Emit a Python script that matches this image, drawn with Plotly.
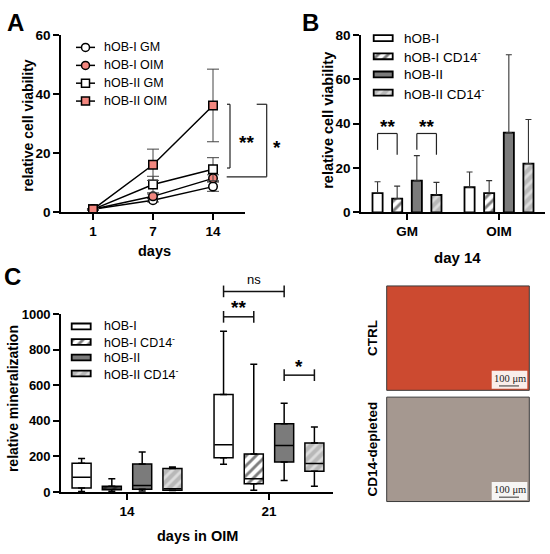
import plotly.graph_objects as go

FONT = "Liberation Sans, Arial, sans-serif"
SERIF = "Liberation Serif, DejaVu Serif, serif"
PINK = "#f3877f"
W, H = 550, 554

# ---------------- data ----------------
# A: relative cell viability, mean and SD on day 1, 7, 14
A_DAYS = ["1", "7", "14"]
A_OB1_GM = [1.0, 4.1, 8.7]
A_OB1_GM_SD = [0.2, 0.6, 1.6]
A_OB1_OIM = [1.0, 5.4, 11.5]
A_OB1_OIM_SD = [0.2, 0.8, 1.2]
A_OB2_GM = [1.0, 9.4, 14.6]
A_OB2_GM_SD = [0.2, 2.8, 3.9]
A_OB2_OIM = [1.0, 16.1, 36.2]
A_OB2_OIM_SD = [0.3, 5.3, 12.3]

# B: relative cell viability at day 14, mean and SD
B_MEDIA = ["GM", "OIM"]
B_OB1 = [8.7, 11.3]
B_OB1_SD = [5.1, 6.9]
B_OB1_CD14 = [6.2, 8.7]
B_OB1_CD14_SD = [5.6, 5.6]
B_OB2 = [14.3, 36.0]
B_OB2_SD = [11.3, 35.2]
B_OB2_CD14 = [7.8, 22.0]
B_OB2_CD14_SD = [5.7, 19.9]

# C: relative mineralization, box stats on day 14 and 21 in OIM
C_DAYS = ["14", "21"]
C_OB1_LO = [3, 156]
C_OB1_Q1 = [22, 192]
C_OB1_MED = [83, 265]
C_OB1_Q3 = [161, 548]
C_OB1_HI = [188, 904]
C_OB1_CD14_LO = [2, 10]
C_OB1_CD14_Q1 = [12, 46]
C_OB1_CD14_MED = [22, 74]
C_OB1_CD14_Q3 = [32, 214]
C_OB1_CD14_HI = [74, 718]
C_OB2_LO = [5, 65]
C_OB2_Q1 = [15, 168]
C_OB2_MED = [37, 262]
C_OB2_Q3 = [158, 384]
C_OB2_HI = [225, 499]
C_OB2_CD14_LO = [8, 32]
C_OB2_CD14_Q1 = [10, 116]
C_OB2_CD14_MED = [18, 160]
C_OB2_CD14_Q3 = [132, 275]
C_OB2_CD14_HI = [141, 365]

# ---------------- styling ----------------
A_NAMES = ["hOB-I GM", "hOB-I OIM", "hOB-II GM", "hOB-II OIM"]
A_SYMBOLS = ["circle", "circle", "square", "square"]
A_FILLS = ["white", PINK, "white", PINK]

GROUP_NAMES = ["hOB-I", "hOB-I CD14<sup>-</sup>", "hOB-II", "hOB-II CD14<sup>-</sup>"]
GROUP_BG = ["white", "white", "#7b7b7b", "#b8b8b8"]
GROUP_FG = [None, "black", None, "white"]
OFFSETS = [-0.32, -0.107, 0.107, 0.32]

# axis geometry in pixels (figure is 550 x 554)
A_L, A_R, A_B, A_T = 61, 245, 211, 29
B_L, B_R = 361, 545
C_L, C_R, C_B, C_T = 61, 333, 498.5, 315.7
A_XR = [-0.533, 2.533]
B_XR = [-0.5, 1.5]
C_XR = [-0.465, 1.451]


def px(val, lo, hi, p0, p1):
    return p0 + (val - lo) / (hi - lo) * (p1 - p0)


def a_y(v):
    return px(v, 0, 60, A_B, A_T)


def b_x(v):
    return px(v, B_XR[0], B_XR[1], B_L, B_R)


def b_y(v):
    return px(v, 0, 80, A_B, A_T)


def c_x(v):
    return px(v, C_XR[0], C_XR[1], C_L, C_R)


def c_y(v):
    return px(v, 0, 1000, C_B, C_T)


def group_marker(i, lw=1.6):
    m = dict(color=GROUP_BG[i], line=dict(color="black", width=lw))
    if GROUP_FG[i]:
        m["pattern"] = dict(shape="/", fgcolor=GROUP_FG[i], bgcolor=GROUP_BG[i],
                            size=7, solidity=0.42)
    return m


fig = go.Figure()

# ---------------- panel A ----------------
a_means = [A_OB1_GM, A_OB1_OIM, A_OB2_GM, A_OB2_OIM]
a_sds = [A_OB1_GM_SD, A_OB1_OIM_SD, A_OB2_GM_SD, A_OB2_OIM_SD]
for i in range(4):
    fig.add_trace(go.Scatter(
        x=A_DAYS, y=a_means[i], mode="lines+markers", name=A_NAMES[i],
        line=dict(color="black", width=1.5),
        marker=dict(symbol=A_SYMBOLS[i], size=8.5, color=A_FILLS[i],
                    line=dict(color="black", width=1.5)),
        error_y=dict(type="data", array=a_sds[i], color="#444", thickness=1, width=6),
        xaxis="x", yaxis="y"))

# ---------------- panel B ----------------
b_vals = [B_OB1, B_OB1_CD14, B_OB2, B_OB2_CD14]
b_sds = [B_OB1_SD, B_OB1_CD14_SD, B_OB2_SD, B_OB2_CD14_SD]
for i in range(4):
    fig.add_trace(go.Bar(
        x=[k + OFFSETS[i] for k in range(len(B_MEDIA))], y=b_vals[i], width=0.11,
        name=GROUP_NAMES[i], marker=group_marker(i, 1.8),
        error_y=dict(type="data", symmetric=False, array=b_sds[i],
                     arrayminus=[0] * len(B_MEDIA), color="#333", thickness=1.1, width=3),
        xaxis="x2", yaxis="y2"))

# ---------------- panel C ----------------
c_sets = [
    (C_OB1_LO, C_OB1_Q1, C_OB1_MED, C_OB1_Q3, C_OB1_HI),
    (C_OB1_CD14_LO, C_OB1_CD14_Q1, C_OB1_CD14_MED, C_OB1_CD14_Q3, C_OB1_CD14_HI),
    (C_OB2_LO, C_OB2_Q1, C_OB2_MED, C_OB2_Q3, C_OB2_HI),
    (C_OB2_CD14_LO, C_OB2_CD14_Q1, C_OB2_CD14_MED, C_OB2_CD14_Q3, C_OB2_CD14_HI),
]
for i, (lo, q1, med, q3, hi) in enumerate(c_sets):
    xs = [k + OFFSETS[i] for k in range(len(C_DAYS))]
    whisk = dict(type="data", symmetric=False, color="black", thickness=1.5, width=3.5)
    fig.add_trace(go.Bar(
        x=xs, base=q1, y=[b - a for a, b in zip(q1, q3)], width=0.134,
        name=GROUP_NAMES[i], marker=group_marker(i, 1.5),
        error_y=dict(whisk, array=[b - a for a, b in zip(q3, hi)], arrayminus=[0] * len(xs)),
        xaxis="x3", yaxis="y3"))
    fig.add_trace(go.Scatter(
        x=xs, y=q1, mode="markers", marker=dict(size=2, opacity=0),
        error_y=dict(whisk, array=[0] * len(xs), arrayminus=[a - b for a, b in zip(q1, lo)]),
        xaxis="x3", yaxis="y3"))
    fig.add_trace(go.Scatter(
        x=xs, y=med, mode="markers",
        marker=dict(symbol="line-ew", size=13, line=dict(color="black", width=1.5)),
        xaxis="x3", yaxis="y3"))

# ---------------- legends (drawn on a pixel canvas) ----------------
A_ROWS = [41.5, 60, 78.3, 96.7]
for i, row in enumerate(A_ROWS):
    fig.add_trace(go.Scatter(x=[76, 95], y=[row, row], mode="lines",
                             line=dict(color="black", width=1.5), xaxis="x4", yaxis="y4"))
    fig.add_trace(go.Scatter(x=[85.5], y=[row], mode="markers",
                             marker=dict(symbol=A_SYMBOLS[i], size=8, color=A_FILLS[i],
                                         line=dict(color="black", width=1.5)),
                             xaxis="x4", yaxis="y4"))

B_ROWS = [32, 50.7, 69.3, 88]
C_ROWS = [328.3, 344.3, 360.3, 376.7]
for rows, cx in [(B_ROWS, 383.2), (C_ROWS, 81.2)]:
    for i, row in enumerate(rows):
        fig.add_trace(go.Bar(x=[cx], base=[row - 3], y=[6], width=[19],
                             marker=group_marker(i, 1.8), xaxis="x4", yaxis="y4"))

ann = []


def text(x, y, s, size, angle=0, anchor="center", family=FONT, color="black"):
    ann.append(dict(x=x, y=y, xref="x4", yref="y4", text=s, showarrow=False,
                    textangle=angle, xanchor=anchor, yanchor="middle",
                    font=dict(family=family, size=size, color=color)))


for i, row in enumerate(A_ROWS):
    text(101.5, row, A_NAMES[i], 12.5, anchor="left")
for i, row in enumerate(B_ROWS):
    text(402, row, GROUP_NAMES[i], 13.5, anchor="left")
for i, row in enumerate(C_ROWS):
    text(101.5, row, GROUP_NAMES[i], 12.5, anchor="left")

# panel letters and axis titles
text(15, 16, "<b>A</b>", 24)
text(310, 16, "<b>B</b>", 24)
text(12, 277, "<b>C</b>", 24)
text(28, 122, "<b>relative cell viability</b>", 14, angle=-90)
text(154, 251, "<b>days</b>", 14.5)
text(328, 117, "<b>relative cell viability</b>", 14.5, angle=-90)
text(457, 257, "<b>day 14</b>", 15)
text(13, 403, "<b>relative mineralization</b>", 14, angle=-90)
text(197, 544, "<b>days in OIM</b>", 14.5)

shapes = []


def seg(x0, y0, x1, y1, color="#222", width=1.2):
    shapes.append(dict(type="line", xref="x4", yref="y4", x0=x0, y0=y0, x1=x1, y1=y1,
                       line=dict(color=color, width=width)))


# significance marks, panel A
seg(230, a_y(36.6), 230, a_y(15.0))
seg(227, a_y(36.6), 230, a_y(36.6))
seg(227, a_y(15.0), 230, a_y(15.0))
seg(266.7, a_y(36.6), 266.7, a_y(12.0))
seg(256.7, a_y(36.6), 266.7, a_y(36.6))
seg(226.7, a_y(12.0), 266.7, a_y(12.0))
text(246.7, 139, "<b>**</b>", 19)
text(276.7, 144, "<b>*</b>", 19)

# significance marks, panel B
for a, b in [(0, 1), (2, 3)]:
    xa, xb = b_x(OFFSETS[a]), b_x(OFFSETS[b])
    seg(xa, b_y(28.2), xa, b_y(35.6))
    seg(xa, b_y(35.6), xb, b_y(35.6))
    seg(xb, b_y(35.6), xb, b_y(26.0))
    text((xa + xb) / 2, b_y(40.7) + 4, "<b>**</b>", 19)

# significance marks, panel C
for a, b, lvl, label, ty in [(0, 2, 1128, "ns", 1195), (0, 1, 985, "<b>**</b>", 1058),
                              (2, 3, 657, "<b>*</b>", 730)]:
    xa, xb = c_x(1 + OFFSETS[a]), c_x(1 + OFFSETS[b])
    yy = c_y(lvl)
    seg(xa, yy, xb, yy, color="#111", width=1.5)
    seg(xa, yy - 6, xa, yy + 6, color="#111", width=1.5)
    seg(xb, yy - 6, xb, yy + 6, color="#111", width=1.5)
    if label == "ns":
        text((xa + xb) / 2, c_y(ty), label, 13)
    else:
        text((xa + xb) / 2, c_y(ty) + 4, label, 19)

# micrographs (flat colour stand-ins) with scale labels
for y0, y1, col in [(286.7, 394, "#cc4a30"), (401, 508.3, "#a59890")]:
    shapes.append(dict(type="rect", xref="x4", yref="y4", x0=386.7, x1=529.3, y0=y0, y1=y1,
                       fillcolor=col, line=dict(color="#3a3a3a", width=1)))
    shapes.append(dict(type="rect", xref="x4", yref="y4", x0=491.7, x1=527.3,
                       y0=y1 - 20, y1=y1 - 1.5, fillcolor="rgba(255,255,255,0.9)",
                       line=dict(width=0)))
    text(509.5, y1 - 12.5, "100 \u03bcm", 10.5, family=SERIF, color="#222")
    seg(499, y1 - 4.5, 519, y1 - 4.5, color="#333", width=1)
text(372, 340.3, "<b>CTRL</b>", 13.5, angle=-90)
text(372, 454.7, "<b>CD14-depleted</b>", 13.5, angle=-90)


def axis(domain, rng, anchor, **kw):
    d = dict(domain=domain, range=rng, anchor=anchor, showline=True, linecolor="black",
             linewidth=1.6, ticks="outside", ticklen=6, tickwidth=1.6, tickcolor="black",
             showgrid=False, zeroline=False, fixedrange=True,
             tickfont=dict(family=FONT, size=13.5, color="black", weight="bold"))
    d.update(kw)
    return d


fig.update_layout(
    width=W, height=H, autosize=False, showlegend=False,
    margin=dict(l=0, r=0, t=0, b=0),
    paper_bgcolor="white", plot_bgcolor="rgba(0,0,0,0)",
    barmode="overlay",
    xaxis=axis([A_L / W, A_R / W], A_XR, "y", type="category"),
    yaxis=axis([1 - A_B / H, 1 - A_T / H], [0, 60], "x", tickvals=[0, 20, 40, 60]),
    xaxis2=axis([B_L / W, B_R / W], B_XR, "y2", tickvals=[0, 1], ticktext=B_MEDIA),
    yaxis2=axis([1 - A_B / H, 1 - A_T / H], [0, 80], "x2", tickvals=[0, 20, 40, 60, 80]),
    xaxis3=axis([C_L / W, C_R / W], C_XR, "y3", tickvals=[0, 1], ticktext=C_DAYS),
    yaxis3=axis([1 - C_B / H, 1 - C_T / H], [0, 1000], "x3",
                tickvals=[0, 200, 400, 600, 800, 1000], tickfont=dict(family=FONT, size=13,
                                                                   color="black", weight="bold")),
    xaxis4=dict(domain=[0, 1], range=[0, W], anchor="y4", visible=False, fixedrange=True),
    yaxis4=dict(domain=[0, 1], range=[H, 0], anchor="x4", visible=False, fixedrange=True),
    annotations=ann,
    shapes=shapes,
)

fig.write_html("out.html", config={"displayModeBar": False},
               post_script="document.body.style.margin='0';")
